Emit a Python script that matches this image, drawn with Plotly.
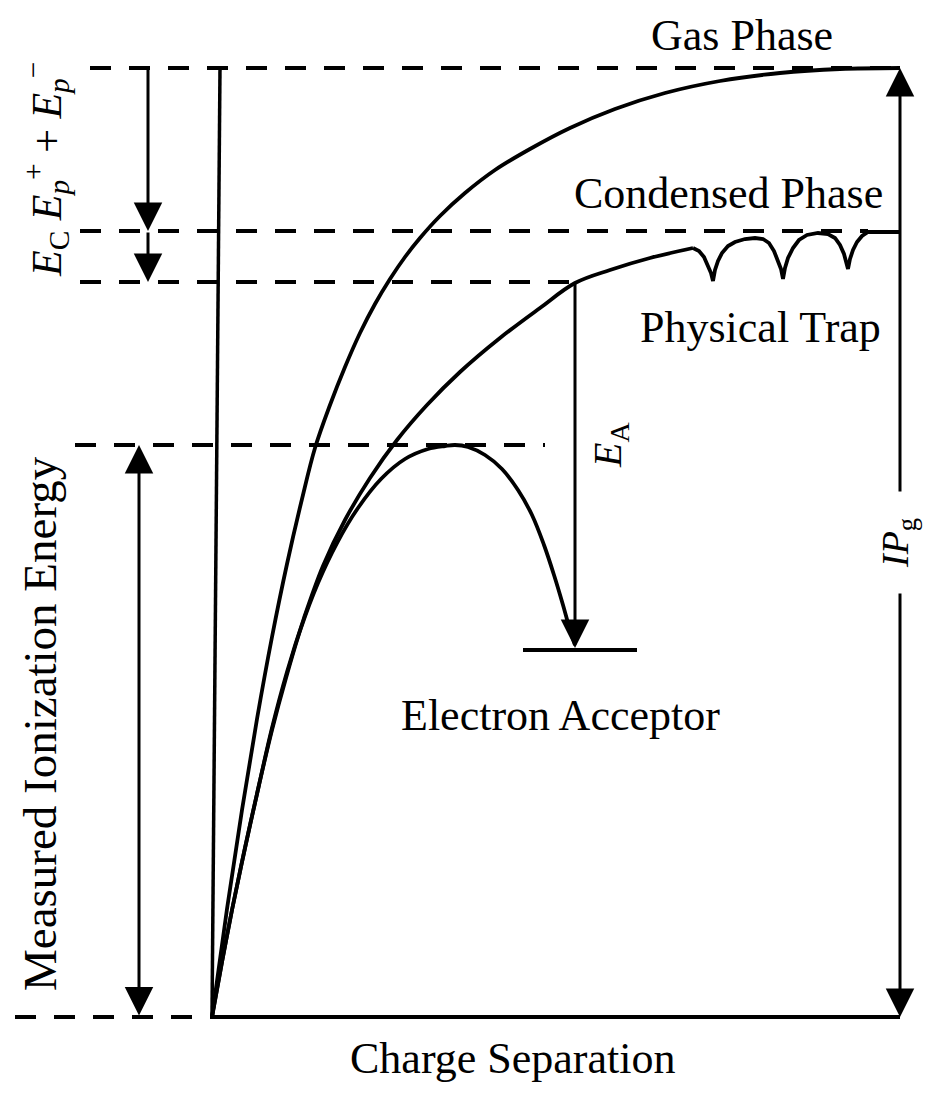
import plotly.graph_objects as go

# ---- data (pixel-space schematic coordinates) ----
LEVEL_TOP = 68        # gas phase limit
LEVEL_COND = 231      # condensed phase limit
LEVEL_COND2 = 282     # condensed + polarisation
LEVEL_MEAS = 445      # measured ionisation level
LEVEL_BASE = 1017     # ground
LEVEL_ACC = 650       # electron acceptor level

GAS_X = [212, 227, 242, 257, 272, 287, 302, 315, 330, 345, 360, 375, 390, 405, 420, 440, 465, 495, 530, 570, 615, 665, 720, 780, 840, 900]
GAS_Y = [1017, 909, 810, 719, 637, 564, 499, 448, 405, 367, 333, 304, 279, 257, 238, 216, 193, 170, 149, 128, 109, 93, 81, 73, 69, 68]

COND_X = [212, 222, 232, 245, 259, 272, 287, 304, 323, 345, 370, 397, 427, 460, 500, 540, 575, 610, 650, 693]
COND_Y = [1017, 962, 910, 848, 785, 728, 672, 618, 566, 520, 478, 440, 405, 372, 338, 308, 283, 270, 258, 248]

TRAP_X = [693, 699, 704, 708, 711, 713, 715, 718, 722, 728, 735, 745, 755, 763, 769, 774, 778, 781, 783,
          785, 788, 793, 799, 807, 818, 828, 835, 840, 844, 846, 848, 850, 853, 857, 862, 868, 900]
TRAP_Y = [248, 251, 257, 265, 273, 281, 270, 261, 253, 246, 242, 239, 238, 239, 243, 251, 260, 269, 279,
          268, 258, 248, 240, 235, 233, 234, 238, 245, 254, 261, 269, 259, 250, 242, 236, 232, 232]

ACC_X = [212, 222, 232, 245, 259, 272, 286, 301, 318, 337, 358, 381, 405, 428, 445, 455, 468, 485, 502, 518, 532, 544, 554, 563, 570, 575]
ACC_Y = [1017, 962, 910, 848, 785, 730, 678, 628, 583, 543, 508, 479, 459, 449, 446, 445, 447, 455, 469, 490, 515, 545, 575, 605, 630, 645]

# dashed guide lines: (y, x_start, x_end)
DASH_Y = [LEVEL_TOP, LEVEL_COND, LEVEL_COND2, LEVEL_MEAS, LEVEL_BASE]
DASH_X0 = [90, 80, 80, 75, 15]
DASH_X1 = [900, 868, 575, 545, 212]

LEFT_AXIS_X = [220, 212]
LEFT_AXIS_Y = [LEVEL_TOP, LEVEL_BASE]
BASE_X = [212, 900]
ACC_LEVEL_X = [523, 637]

# arrows: x, tail y, head y, double-headed?
ARROW_X = [148, 148, 139, 900, 900, 575]
ARROW_TAIL = [LEVEL_TOP, LEVEL_COND, LEVEL_BASE, 493, 592, LEVEL_COND2]
ARROW_HEAD = [LEVEL_COND, LEVEL_COND2, LEVEL_MEAS, LEVEL_TOP, LEVEL_BASE, LEVEL_ACC - 2]
ARROW_BOTH = [False, False, True, False, False, False]

FONT = "Liberation Serif"
BLACK = "#000000"

fig = go.Figure()

# dashed levels
for y, x0, x1 in zip(DASH_Y, DASH_X0, DASH_X1):
    fig.add_trace(go.Scatter(x=[x0, x1], y=[y, y], mode="lines",
                             line=dict(color=BLACK, width=4, dash="21px,18px"),
                             hoverinfo="skip", showlegend=False))

# left vertical axis and baseline
fig.add_trace(go.Scatter(x=LEFT_AXIS_X, y=LEFT_AXIS_Y, mode="lines",
                         line=dict(color=BLACK, width=3.5), showlegend=False, hoverinfo="skip"))
fig.add_trace(go.Scatter(x=BASE_X, y=[LEVEL_BASE, LEVEL_BASE], mode="lines",
                         line=dict(color=BLACK, width=4), showlegend=False, hoverinfo="skip"))
# electron acceptor level
fig.add_trace(go.Scatter(x=ACC_LEVEL_X, y=[LEVEL_ACC, LEVEL_ACC], mode="lines",
                         line=dict(color=BLACK, width=4), showlegend=False, hoverinfo="skip"))

# curves
for xs, ys, shape in [(GAS_X, GAS_Y, "spline"), (COND_X, COND_Y, "spline"),
                      (TRAP_X, TRAP_Y, "linear"), (ACC_X, ACC_Y, "spline")]:
    line = dict(color=BLACK, width=3.8, shape=shape)
    if shape == "spline":
        line["smoothing"] = 1.0
    fig.add_trace(go.Scatter(x=xs, y=ys, mode="lines", line=line,
                             showlegend=False, hoverinfo="skip"))

annotations = []
for x, tail, head, both in zip(ARROW_X, ARROW_TAIL, ARROW_HEAD, ARROW_BOTH):
    annotations.append(dict(x=x, y=head, ax=x, ay=tail, xref="x", yref="y", axref="x", ayref="y",
                            text="", showarrow=True, arrowhead=2, arrowsize=1.9, arrowwidth=3,
                            arrowcolor=BLACK, arrowside="end+start" if both else "end",
                            startarrowhead=2, startarrowsize=1.9))

# labels: (text, x, y, size, angle)
LABELS = [
    ("Gas Phase", 742, 35, 44, 0),
    ("Condensed Phase", 728, 193, 44, 0),
    ("Physical Trap", 760, 327, 44, 0),
    ("Electron Acceptor", 560, 715, 44, 0),
    ("Charge Separation", 512, 1058, 44, 0),
    ("Measured Ionization Energy", 40, 724, 47, -90),
    ("<i>E</i><sub>C</sub> <i>E</i><sub><i>p</i></sub><sup>+</sup> + <i>E</i><sub><i>p</i></sub><sup>\u2212</sup>", 46, 170, 42, -90),
    ("<i>E</i><sub>A</sub>", 610, 445, 40, -90),
    ("<i>IP</i><sub>g</sub>", 898, 543, 38, -90),
]
for text, x, y, size, angle in LABELS:
    annotations.append(dict(x=x, y=y, xref="x", yref="y", text=text, showarrow=False,
                            textangle=angle, xanchor="center", yanchor="middle",
                            font=dict(family=FONT, size=size, color=BLACK)))

fig.update_layout(
    width=928, height=1093,
    margin=dict(l=0, r=0, t=0, b=0),
    paper_bgcolor="white", plot_bgcolor="white",
    xaxis=dict(range=[0, 928], visible=False, fixedrange=True),
    yaxis=dict(range=[1093, 0], visible=False, fixedrange=True),
    annotations=annotations,
    showlegend=False,
)

fig.write_html("out.html")
